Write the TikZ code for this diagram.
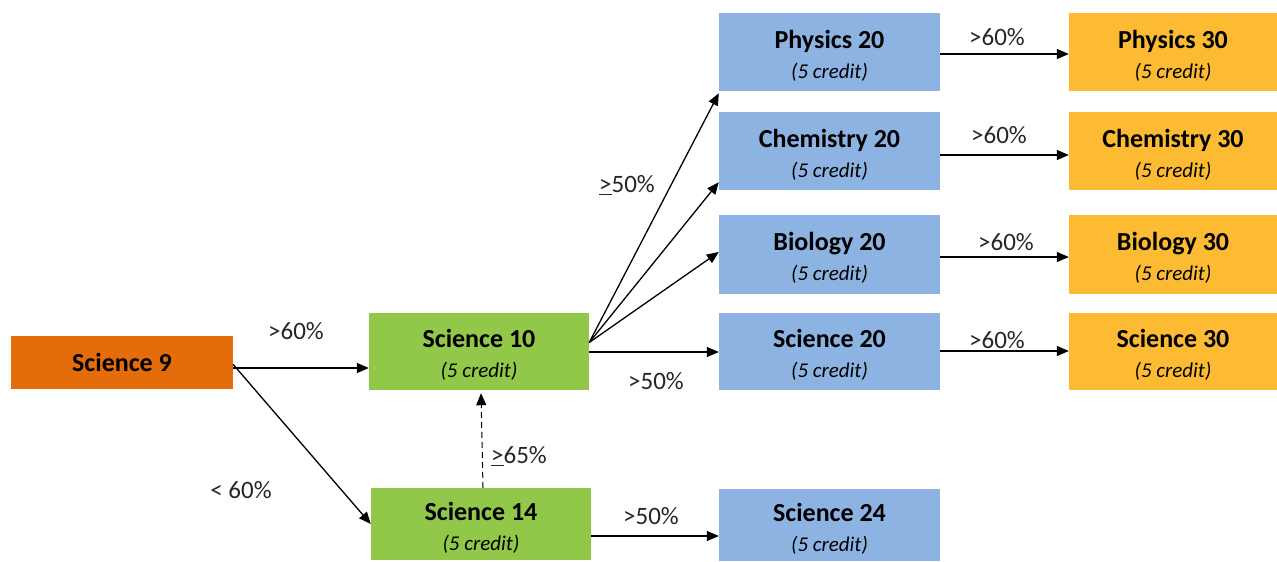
\documentclass[tikz,border=0pt]{standalone}
\usepackage{fontspec}
\setmainfont{Carlito}
\usetikzlibrary{arrows.meta}
\definecolor{sorange}{HTML}{E46C0A}
\definecolor{sgreen}{HTML}{92C84A}
\definecolor{sblue}{HTML}{8DB3E2}
\definecolor{syellow}{HTML}{FCBB33}
\begin{document}
\begin{tikzpicture}[x=1pt,y=-1pt,
  box/.style={draw=none, inner sep=0pt, align=center, font=\fontsize{26}{27}\selectfont\bfseries},
  lbl/.style={font=\fontsize{25}{26}\selectfont, text=black!85, inner sep=0pt},
  arr/.style={line width=1.3pt, -{Triangle[length=12pt,width=10pt]}},
]
\useasboundingbox (0,0) rectangle (1277,562);
\newcommand{\cred}{\\[3pt]{\fontsize{21}{22}\selectfont\mdseries\itshape (5 credit)}}
\newcommand{\tstrut}{\rule{0pt}{25pt}}
% nodes
\node[box, fill=sorange, minimum width=222pt, minimum height=53pt] (s9) at (122,362.5) {Science 9};
\node[box, fill=sgreen, minimum width=220pt, minimum height=77pt] (s10) at (479,351.5) {\tstrut Science 10\cred};
\node[box, fill=sgreen, minimum width=220pt, minimum height=72pt] (s14) at (481,524) {\tstrut Science 14\cred};
\node[box, fill=sblue, minimum width=221pt, minimum height=78pt] (p20) at (829.5,52) {\tstrut Physics 20\cred};
\node[box, fill=sblue, minimum width=221pt, minimum height=78pt] (c20) at (829.5,151) {\tstrut Chemistry 20\cred};
\node[box, fill=sblue, minimum width=221pt, minimum height=79pt] (b20) at (829.5,254.5) {\tstrut Biology 20\cred};
\node[box, fill=sblue, minimum width=221pt, minimum height=77pt] (sc20) at (829.5,351.5) {\tstrut Science 20\cred};
\node[box, fill=sblue, minimum width=221pt, minimum height=72pt] (sc24) at (829.5,525) {\tstrut Science 24\cred};
\node[box, fill=syellow, minimum width=208pt, minimum height=78pt] (p30) at (1173,52) {\tstrut Physics 30\cred};
\node[box, fill=syellow, minimum width=208pt, minimum height=78pt] (c30) at (1173,151) {\tstrut Chemistry 30\cred};
\node[box, fill=syellow, minimum width=208pt, minimum height=79pt] (b30) at (1173,254.5) {\tstrut Biology 30\cred};
\node[box, fill=syellow, minimum width=208pt, minimum height=77pt] (sc30) at (1173,351.5) {\tstrut Science 30\cred};
% coordinates
\coordinate (a9) at ([yshift=-5.5pt]s9.east);
\coordinate (fan) at ([yshift=9pt]s10.east);
\coordinate (s10lo) at ([yshift=-0.5pt]s10.east);
\coordinate (s14r) at ([yshift=-12pt]s14.east);
% connectors
\draw[arr] (a9) -- (a9 -| s10.west);
\draw[arr] ([yshift=-2pt]s9.east) -- (s14.west);
\draw[arr, dash pattern=on 6pt off 4pt, line width=1pt] ([xshift=2pt]s14.north) -- ([xshift=2pt,yshift=-3pt]s10.south);
\draw[arr] (fan) -- ([yshift=-2pt]p20.south west);
\draw[arr] (fan) -- ([yshift=8pt]c20.south west);
\draw[arr] (fan) -- ([yshift=2.5pt]b20.west);
\draw[arr] (s10lo) -- (s10lo -| sc20.west);
\draw[arr] (s14r) -- (s14r -| sc24.west);
\draw[arr] ([yshift=-2pt]p20.east) -- ([yshift=-2pt]p30.west);
\draw[arr] ([yshift=-4pt]c20.east) -- ([yshift=-4pt]c30.west);
\draw[arr] ([yshift=-2.5pt]b20.east) -- ([yshift=-2.5pt]b30.west);
\draw[arr] ([yshift=0.5pt]sc20.east) -- ([yshift=0.5pt]sc30.west);
% labels
\node[lbl] (l1) at (296,331) {>60\%};
\node[lbl] (l2) at (241,490) {< 60\%};
\node[lbl] (l3) at (519,456) {\underline{>}65\%};
\node[lbl] (l4) at (627,185) {\underline{>}50\%};
\node[lbl] (l5) at (656,381) {>50\%};
\node[lbl] (l6) at (651,516) {>50\%};
\node[lbl] (l7) at (997,37) {>60\%};
\node[lbl] (l8) at (999,135) {>60\%};
\node[lbl] (l9) at (1006,242) {>60\%};
\node[lbl] (l10) at (997,340) {>60\%};
\end{tikzpicture}
\end{document}
